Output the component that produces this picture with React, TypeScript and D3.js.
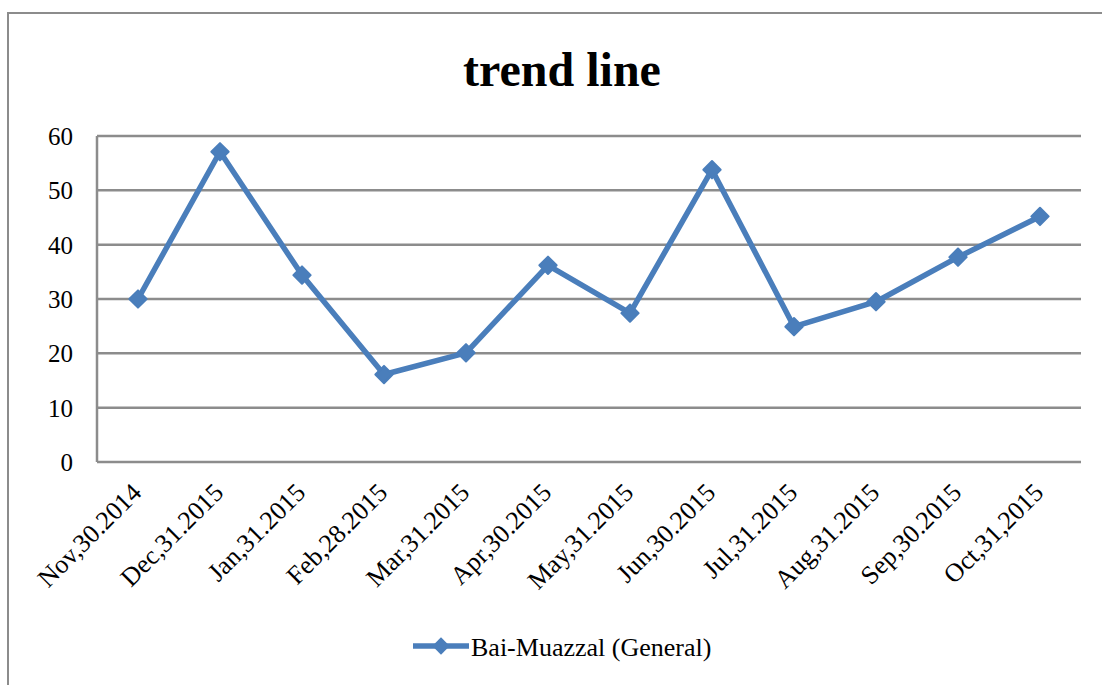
import { useEffect, useRef } from 'react'
import * as d3 from 'd3'

const CATEGORIES = [
  'Nov,30.2014',
  'Dec,31.2015',
  'Jan,31.2015',
  'Feb,28.2015',
  'Mar,31.2015',
  'Apr,30.2015',
  'May,31.2015',
  'Jun,30.2015',
  'Jul,31.2015',
  'Aug,31.2015',
  'Sep,30.2015',
  'Oct,31,2015',
]
const VALUES = [30, 57.1, 34.4, 16.1, 20.1, 36.2, 27.4, 53.8, 24.9, 29.5, 37.7, 45.2]
const Y_TICKS = [0, 10, 20, 30, 40, 50, 60]
const SERIES_NAME = 'Bai-Muazzal (General)'
const TITLE = 'trend line'

const LINE_COLOR = '#4a7ebb'
const GRID_COLOR = '#8c8c8c'
const FONT = '"Liberation Serif", "Times New Roman", serif'

export default function App() {
  const svgRef = useRef<SVGSVGElement>(null)

  useEffect(() => {
    const el = svgRef.current
    if (!el) return
    const w = 1102
    const h = 685
    const plot = { left: 97, right: 1081, top: 136, bottom: 462 }

    const svg = d3.select(el)
    svg.selectAll('*').remove()

    // outer chart border (runs off the right and bottom of the picture)
    svg
      .append('rect')
      .attr('x', 8)
      .attr('y', 13)
      .attr('width', w + 20)
      .attr('height', h + 20)
      .attr('fill', '#fff')
      .attr('stroke', GRID_COLOR)
      .attr('stroke-width', 2)

    svg
      .append('text')
      .attr('x', 562)
      .attr('y', 86)
      .attr('text-anchor', 'middle')
      .attr('font-family', FONT)
      .attr('font-weight', 'bold')
      .attr('font-size', 48)
      .text(TITLE)

    const x = d3.scaleBand().domain(CATEGORIES).range([plot.left, plot.right])
    const y = d3.scaleLinear().domain([0, 60]).range([plot.bottom, plot.top])
    const cx = (c: string) => (x(c) ?? 0) + x.bandwidth() / 2

    // gridlines
    svg
      .append('g')
      .selectAll('line')
      .data(Y_TICKS)
      .join('line')
      .attr('x1', plot.left)
      .attr('x2', plot.right)
      .attr('y1', (d) => y(d))
      .attr('y2', (d) => y(d))
      .attr('stroke', GRID_COLOR)
      .attr('stroke-width', 2.5)

    // y axis line
    svg
      .append('line')
      .attr('x1', plot.left)
      .attr('x2', plot.left)
      .attr('y1', plot.top)
      .attr('y2', plot.bottom)
      .attr('stroke', GRID_COLOR)
      .attr('stroke-width', 2.5)

    // y tick labels
    svg
      .append('g')
      .selectAll('text')
      .data(Y_TICKS)
      .join('text')
      .attr('x', 73)
      .attr('y', (d) => y(d) + 9)
      .attr('text-anchor', 'end')
      .attr('font-family', FONT)
      .attr('font-size', 25)
      .text((d) => d)

    // x labels, rotated
    svg
      .append('g')
      .selectAll('text')
      .data(CATEGORIES)
      .join('text')
      .attr('transform', (d) => `translate(${cx(d) + 5},${plot.bottom + 32}) rotate(-45)`)
      .attr('text-anchor', 'end')
      .attr('font-family', FONT)
      .attr('font-size', 26)
      .text((d) => d)

    const pts = CATEGORIES.map((c, i) => ({ c, v: VALUES[i] }))
    const lineGen = d3
      .line<{ c: string; v: number }>()
      .x((p) => cx(p.c))
      .y((p) => y(p.v))

    svg
      .append('path')
      .datum(pts)
      .attr('d', lineGen)
      .attr('fill', 'none')
      .attr('stroke', LINE_COLOR)
      .attr('stroke-width', 5.5)
      .attr('stroke-linejoin', 'round')

    // diamond markers: a square turned 45 degrees
    const marker = d3.symbol().type(d3.symbolSquare).size(150)
    svg
      .append('g')
      .selectAll('path')
      .data(pts)
      .join('path')
      .attr('transform', (p) => `translate(${cx(p.c)},${y(p.v)}) rotate(45)`)
      .attr('d', marker)
      .attr('fill', LINE_COLOR)
      .attr('stroke', LINE_COLOR)
      .attr('stroke-width', 2)
      .attr('stroke-linejoin', 'round')

    // legend
    const lg = svg.append('g')
    lg.append('line')
      .attr('x1', 413)
      .attr('x2', 469)
      .attr('y1', 646)
      .attr('y2', 646)
      .attr('stroke', LINE_COLOR)
      .attr('stroke-width', 5.5)
    lg.append('path')
      .attr('transform', 'translate(441,646) rotate(45)')
      .attr('d', marker)
      .attr('fill', LINE_COLOR)
    lg.append('text')
      .attr('x', 471)
      .attr('y', 656)
      .attr('font-family', FONT)
      .attr('font-size', 26)
      .text(SERIES_NAME)
  }, [])

  return (
    <svg
      ref={svgRef}
      width={1102}
      height={685}
      style={{ position: 'absolute', left: 0, top: 0, display: 'block', background: '#fff' }}
    />
  )
}
